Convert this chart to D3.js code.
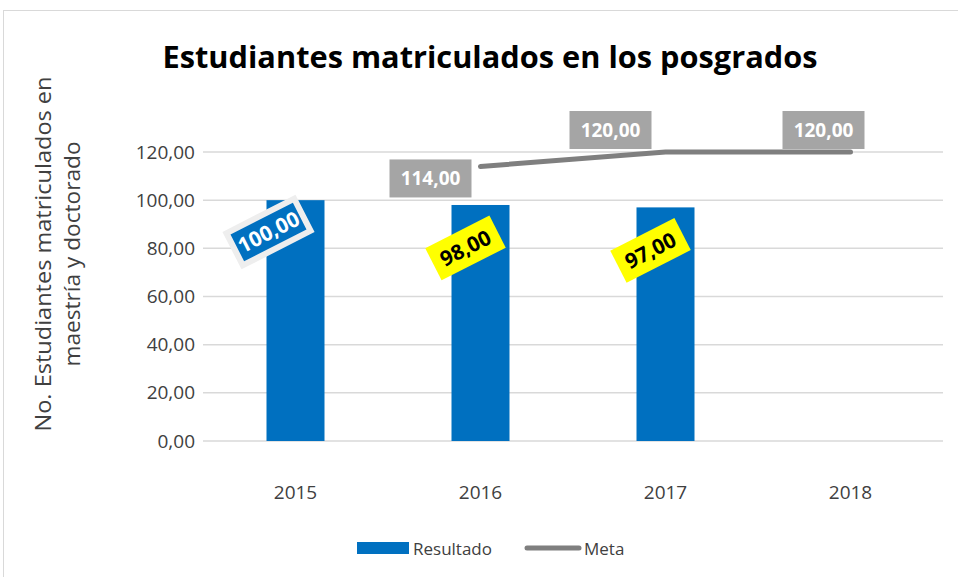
<!DOCTYPE html>
<html lang="es">
<head>
<meta charset="utf-8">
<title>Estudiantes matriculados</title>
<style>
body{margin:0;background:#fff;}
text{font-family:"Open Sans","Noto Sans",sans-serif;}
.axis path,.axis line{fill:none;stroke:none;}
.axis text{font-size:19px;fill:#404040;}
</style>
</head>
<body>
<script src="https://cdn.jsdelivr.net/npm/d3@7"></script>
<script>
var years = ["2015", "2016", "2017", "2018"];
var resultado = [100, 98, 97, null];
var meta = [null, 114, 120, 120];
var yTicks = [0, 20, 40, 60, 80, 100, 120];

var w = 958, h = 577;
var fmt = function(v){ return d3.format(".2f")(v).replace(".", ","); };

var svg = d3.select("body").append("svg")
  .attr("width", w)
  .attr("height", h);

// chart frame
svg.append("rect")
  .attr("x", 3.5).attr("y", 10.5)
  .attr("width", 970).attr("height", 600)
  .attr("fill", "#fff").attr("stroke", "#d9d9d9");

var x = d3.scaleBand().domain(years).range([203, 943]);
var y = d3.scaleLinear().domain([0, 120]).range([441, 152]);

// grid
svg.selectAll(".grid")
  .data(yTicks)
  .enter().append("line")
  .attr("x1", 203).attr("x2", 943)
  .attr("y1", function(d){ return y(d); })
  .attr("y2", function(d){ return y(d); })
  .attr("stroke", "#d9d9d9").attr("stroke-width", 1.5);

svg.append("g")
  .attr("class", "axis")
  .attr("transform", "translate(203,0)")
  .call(d3.axisLeft(y).tickValues(yTicks).tickFormat(fmt).tickSize(0).tickPadding(8));

svg.append("g")
  .attr("class", "axis")
  .attr("transform", "translate(0,441)")
  .call(d3.axisBottom(x).tickSize(0).tickPadding(45));

// y title
var yt = svg.append("text")
  .attr("transform", "translate(57,254) rotate(-90)")
  .attr("text-anchor", "middle")
  .attr("font-size", 22).attr("fill", "#404040");
yt.append("tspan").attr("x", 0).attr("dy", -6)
  .attr("textLength", 355).attr("lengthAdjust", "spacingAndGlyphs")
  .text("No. Estudiantes matriculados en");
yt.append("tspan").attr("x", 0).attr("dy", 29)
  .attr("textLength", 225).attr("lengthAdjust", "spacingAndGlyphs")
  .text("maestría y doctorado");

// title
svg.append("text")
  .attr("x", 490).attr("y", 68)
  .attr("text-anchor", "middle")
  .attr("font-size", 31).attr("font-weight", "bold").attr("fill", "#000")
  .attr("textLength", 655).attr("lengthAdjust", "spacingAndGlyphs")
  .text("Estudiantes matriculados en los posgrados");

// bars
var barW = 58;
var barData = years.map(function(d, i){ return {year: d, v: resultado[i]}; })
  .filter(function(d){ return d.v != null; });

svg.selectAll(".bar")
  .data(barData)
  .enter().append("rect")
  .attr("x", function(d){ return x(d.year) + x.bandwidth()/2 - barW/2; })
  .attr("y", function(d){ return y(d.v); })
  .attr("width", barW)
  .attr("height", function(d){ return y(0) - y(d.v); })
  .attr("fill", "#0070c0");

// meta line
var lineData = years.map(function(d, i){ return {year: d, v: meta[i]}; })
  .filter(function(d){ return d.v != null; });

svg.append("path")
  .datum(lineData)
  .attr("d", d3.line()
    .x(function(d){ return x(d.year) + x.bandwidth()/2; })
    .y(function(d){ return y(d.v); }))
  .attr("fill", "none").attr("stroke", "#7f7f7f")
  .attr("stroke-width", 5).attr("stroke-linecap", "round");

// bar labels (rotated)
var barLab = svg.selectAll(".blab")
  .data(barData)
  .enter().append("g")
  .attr("transform", function(d, i){
    var cx = x(d.year) + x.bandwidth()/2 - (i === 0 ? 27 : 15);
    var cy = i === 0 ? 232 : y(d.v) + 43;
    return "translate(" + cx + "," + cy + ") rotate(-27)";
  });

barLab.append("rect")
  .attr("x", function(d, i){ return i === 0 ? -38 : -36; })
  .attr("y", -18)
  .attr("width", function(d, i){ return i === 0 ? 76 : 72; })
  .attr("height", 36)
  .attr("fill", function(d, i){ return i === 0 ? "#0070c0" : "#ffff00"; })
  .attr("stroke", function(d, i){ return i === 0 ? "#eeeeee" : "none"; })
  .attr("stroke-width", 6);

barLab.append("text")
  .attr("text-anchor", "middle").attr("dy", "0.36em")
  .attr("font-size", 21).attr("font-weight", "bold")
  .attr("fill", function(d, i){ return i === 0 ? "#fff" : "#000"; })
  .text(function(d){ return fmt(d.v); });

// meta labels
var metaOff = [[-50, 12], [-55, -22], [-27, -22]];
var metaLab = svg.selectAll(".mlab")
  .data(lineData)
  .enter().append("g")
  .attr("transform", function(d, i){
    var cx = x(d.year) + x.bandwidth()/2 + metaOff[i][0];
    var cy = y(d.v) + metaOff[i][1];
    return "translate(" + cx + "," + cy + ")";
  });

metaLab.append("rect")
  .attr("x", -41).attr("y", -19)
  .attr("width", 82).attr("height", 38)
  .attr("fill", "#a5a5a5");

metaLab.append("text")
  .attr("text-anchor", "middle").attr("dy", "0.36em")
  .attr("font-size", 19).attr("font-weight", "bold").attr("fill", "#fff")
  .text(function(d){ return fmt(d.v); });

// legend
svg.append("rect")
  .attr("x", 357).attr("y", 542).attr("width", 52).attr("height", 12)
  .attr("fill", "#0070c0");
svg.append("text")
  .attr("x", 413).attr("y", 555)
  .attr("font-size", 17).attr("fill", "#404040")
  .text("Resultado");
svg.append("line")
  .attr("x1", 527).attr("x2", 579).attr("y1", 548).attr("y2", 548)
  .attr("stroke", "#7f7f7f").attr("stroke-width", 5).attr("stroke-linecap", "round");
svg.append("text")
  .attr("x", 584).attr("y", 555)
  .attr("font-size", 17).attr("fill", "#404040")
  .text("Meta");
</script>
</body>
</html>
